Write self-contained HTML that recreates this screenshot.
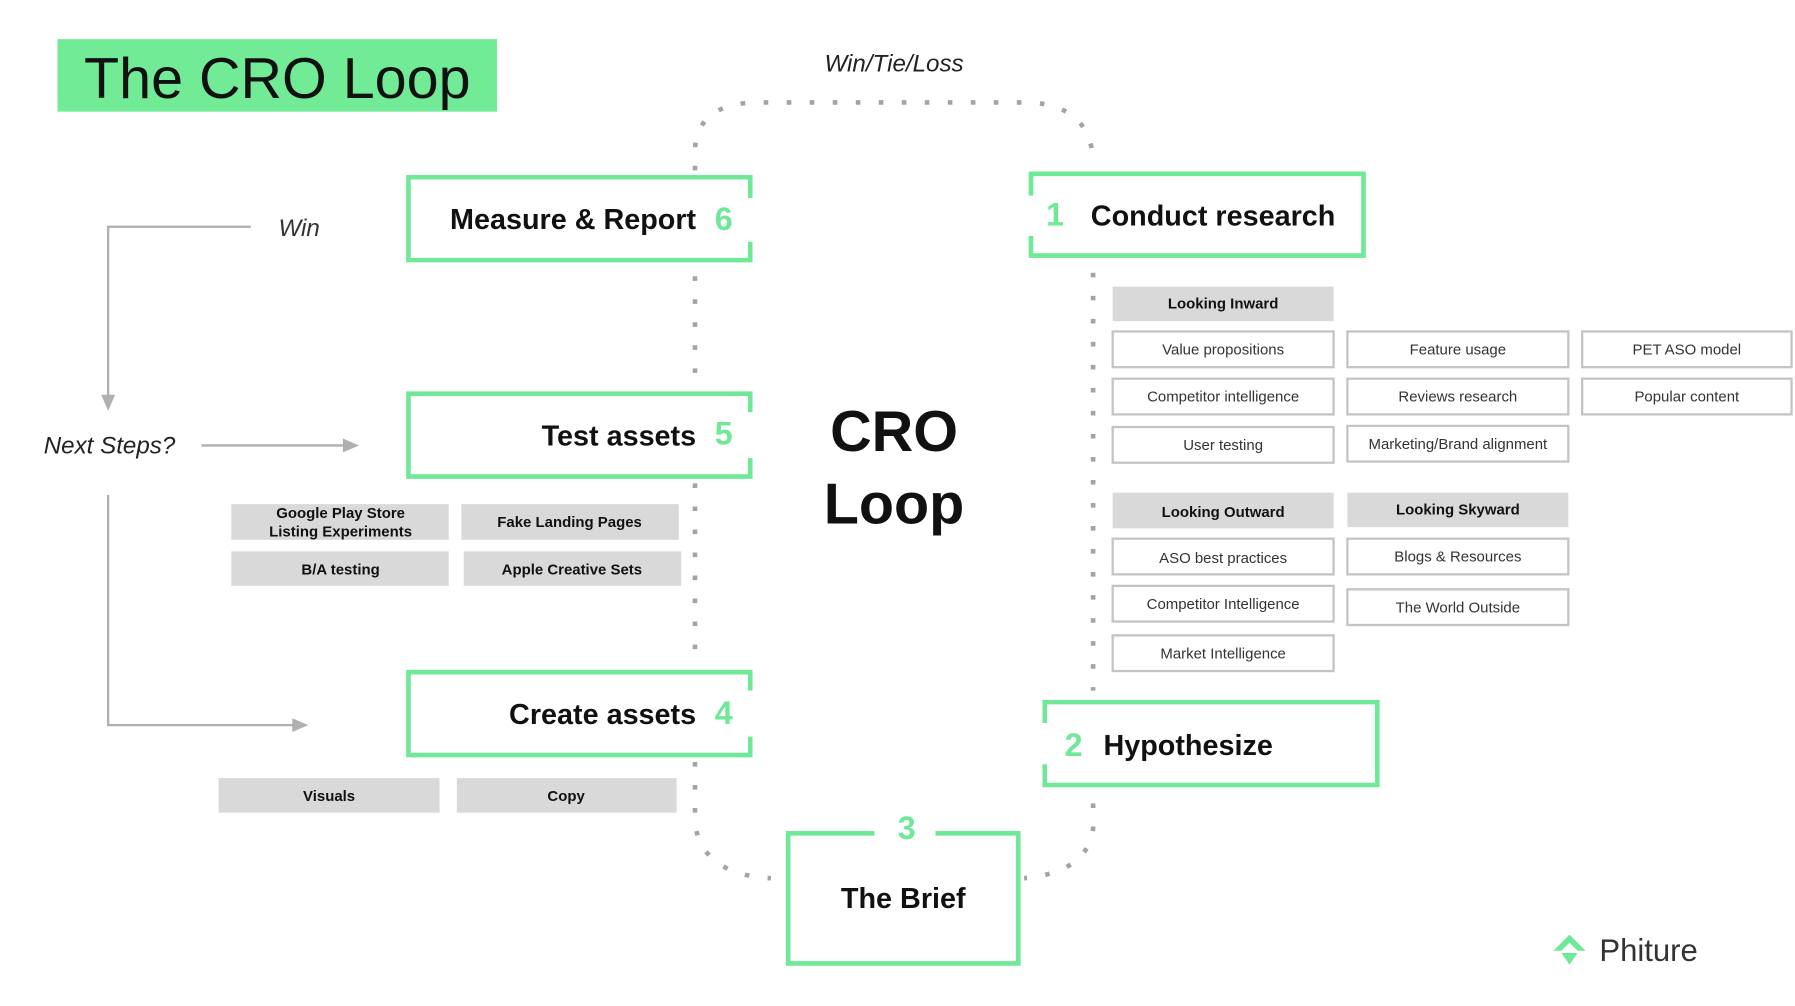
<!DOCTYPE html>
<html><head><meta charset="utf-8"><style>
html,body{margin:0;padding:0;background:#fff;width:1795px;height:1006px;overflow:hidden}
svg{display:block}
text{font-family:"Liberation Sans",sans-serif}
.g{fill:#d9d9d9}
.o{fill:#fff;stroke:#c4c4c4;stroke-width:2}
.gt{font-size:13px;font-weight:bold;fill:#111;text-anchor:middle}
.ot{font-size:13px;fill:#333;text-anchor:middle}
.bx{fill:none;stroke:#6fe897;stroke-width:4}
.bt{font-size:25px;font-weight:bold;fill:#111}
.num{font-size:28px;fill:#6fe897;font-weight:bold}
.dot{fill:none;stroke:#a3a3a3;stroke-width:4;stroke-dasharray:4 16}
.ln{stroke:#b0b0b0;stroke-width:2;fill:none}
</style></head><body>
<svg width="1795" height="1006" viewBox="0 0 1560 874" preserveAspectRatio="none" xmlns="http://www.w3.org/2000/svg">
<rect x="50" y="34" width="382" height="63" fill="#72eb97"/>
<text x="73" y="85" font-size="50" fill="#111" textLength="336" lengthAdjust="spacingAndGlyphs">The CRO Loop</text>
<text x="777" y="62" font-size="21" font-style="italic" fill="#222" text-anchor="middle">Win/Tie/Loss</text>

<path class="dot" d="M604 148 L604 130 Q606 89 660 89 L895 89 Q948 92 950 140"/>
<path class="dot" d="M604 240 L604 325"/>
<path class="dot" d="M604 420 L604 565"/>
<path class="dot" d="M604 662 L604 715 Q610 760 670 763"/>
<path class="dot" d="M950 237 L950 600"/>
<path class="dot" d="M950 698 L950 720 Q945 758 890 763"/>

<path class="bx" d="M652 172 L652 154 L355 154 L355 226 L652 226 L652 210"/>
<text class="bt" x="605" y="199" text-anchor="end">Measure &amp; Report</text>
<text class="num" x="629" y="200" text-anchor="middle">6</text>

<path class="bx" d="M896 170 L896 151 L1185 151 L1185 222 L896 222 L896 205"/>
<text class="num" x="917" y="196" text-anchor="middle">1</text>
<text class="bt" x="948" y="196">Conduct research</text>

<path class="bx" d="M652 358 L652 342 L355 342 L355 414 L652 414 L652 398"/>
<text class="bt" x="605" y="387" text-anchor="end">Test assets</text>
<text class="num" x="629" y="386" text-anchor="middle">5</text>

<path class="bx" d="M652 600 L652 584 L355 584 L355 656 L652 656 L652 640"/>
<text class="bt" x="605" y="629" text-anchor="end">Create assets</text>
<text class="num" x="629" y="629" text-anchor="middle">4</text>

<path class="bx" d="M908 628 L908 610 L1197 610 L1197 682 L908 682 L908 664"/>
<text class="num" x="933" y="657" text-anchor="middle">2</text>
<text class="bt" x="959" y="656">Hypothesize</text>

<path class="bx" d="M760 724 L685 724 L685 837 L885 837 L885 724 L813 724"/>
<text class="num" x="788" y="729" text-anchor="middle">3</text>
<text class="bt" x="785" y="789" text-anchor="middle">The Brief</text>

<text x="777" y="392" font-size="50" font-weight="bold" fill="#111" text-anchor="middle">CRO</text>
<text x="777" y="455" font-size="50" font-weight="bold" fill="#111" text-anchor="middle">Loop</text>

<rect class="g" x="967" y="249" width="192" height="30"/><text class="gt" x="1063" y="268">Looking Inward</text>
<rect class="o" x="967" y="288" width="192" height="31"/><text class="ot" x="1063" y="308">Value propositions</text>
<rect class="o" x="1171" y="288" width="192" height="31"/><text class="ot" x="1267" y="308">Feature usage</text>
<rect class="o" x="1375" y="288" width="182" height="31"/><text class="ot" x="1466" y="308">PET ASO model</text>
<rect class="o" x="967" y="329" width="192" height="31"/><text class="ot" x="1063" y="349">Competitor intelligence</text>
<rect class="o" x="1171" y="329" width="192" height="31"/><text class="ot" x="1267" y="349">Reviews research</text>
<rect class="o" x="1375" y="329" width="182" height="31"/><text class="ot" x="1466" y="349">Popular content</text>
<rect class="o" x="967" y="371" width="192" height="31"/><text class="ot" x="1063" y="391">User testing</text>
<rect class="o" x="1171" y="370" width="192" height="31"/><text class="ot" x="1267" y="390">Marketing/Brand alignment</text>
<rect class="g" x="967" y="428" width="192" height="31"/><text class="gt" x="1063" y="449">Looking Outward</text>
<rect class="g" x="1171" y="428" width="192" height="30"/><text class="gt" x="1267" y="447">Looking Skyward</text>
<rect class="o" x="967" y="468" width="192" height="31"/><text class="ot" x="1063" y="489">ASO best practices</text>
<rect class="o" x="1171" y="468" width="192" height="31"/><text class="ot" x="1267" y="488">Blogs &amp; Resources</text>
<rect class="o" x="967" y="509" width="192" height="31"/><text class="ot" x="1063" y="529">Competitor Intelligence</text>
<rect class="o" x="1171" y="512" width="192" height="31"/><text class="ot" x="1267" y="532">The World Outside</text>
<rect class="o" x="967" y="552" width="192" height="31"/><text class="ot" x="1063" y="572">Market Intelligence</text>

<rect class="g" x="201" y="438" width="189" height="31"/>
<text class="gt" x="296" y="450">Google Play Store</text><text class="gt" x="296" y="466">Listing Experiments</text>
<rect class="g" x="401" y="438" width="189" height="31"/><text class="gt" x="495" y="458">Fake Landing Pages</text>
<rect class="g" x="201" y="479" width="189" height="30"/><text class="gt" x="296" y="499">B/A testing</text>
<rect class="g" x="403" y="479" width="189" height="30"/><text class="gt" x="497" y="499">Apple Creative Sets</text>
<rect class="g" x="190" y="676" width="192" height="30"/><text class="gt" x="286" y="696">Visuals</text>
<rect class="g" x="397" y="676" width="191" height="30"/><text class="gt" x="492" y="696">Copy</text>

<path class="ln" d="M218 197 L94 197 L94 345"/>
<polygon points="88,343 100,343 94,357" fill="#b0b0b0"/>
<text x="242" y="205" font-size="21" font-style="italic" fill="#333">Win</text>
<text x="38" y="394" font-size="21" font-style="italic" fill="#222">Next Steps?</text>
<path class="ln" d="M175 387 L300 387"/>
<polygon points="298,381 312,387 298,393" fill="#b0b0b0"/>
<path class="ln" d="M94 430 L94 630 L256 630"/>
<polygon points="254,624 268,630 254,636" fill="#b0b0b0"/>

<polygon points="1364,812 1378,826 1371,826 1364,819 1357,826 1350,826" fill="#6fe897"/>
<polygon points="1357,828 1371,828 1364,838" fill="#6fe897"/>
<text x="1390" y="835" font-size="27" fill="#333">Phiture</text>
</svg>
</body></html>
